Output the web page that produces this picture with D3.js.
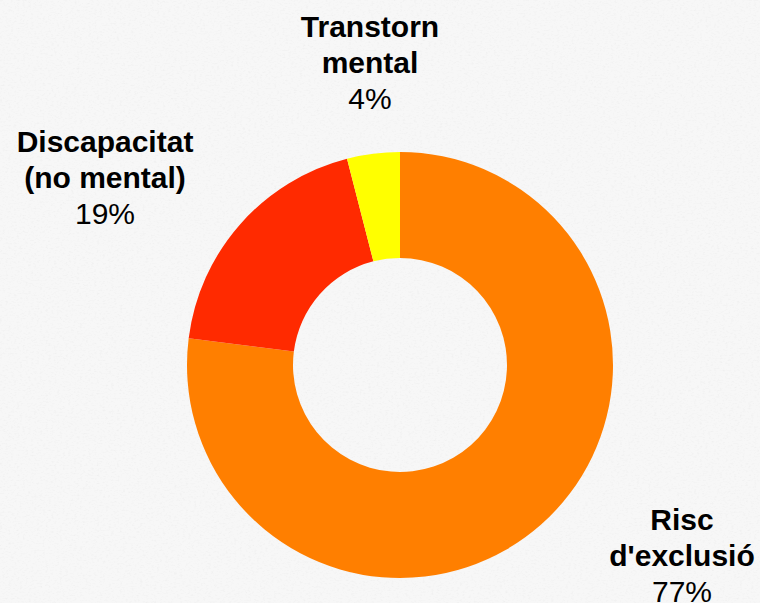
<!DOCTYPE html>
<html>
<head>
<meta charset="utf-8">
<script src="https://d3js.org/d3.v7.min.js"></script>
<style>
body { margin:0; padding:0; background:#f3f3f3; }
svg { display:block; }
</style>
</head>
<body>
<svg width=760 height=603></svg>
<script>
var categories = ["Risc d'exclusió", "Discapacitat (no mental)", "Transtorn mental"];
var values = [77, 19, 4];
var labelLines = [["Risc", "d'exclusió"], ["Discapacitat", "(no mental)"], ["Transtorn", "mental"]];
var colors = ["#ff7f00", "#ff2a00", "#ffff00"];

var width = 760, height = 603;
var cx = 400, cy = 365;
var outerR = 213, innerR = 107;
// label anchor (x, first baseline) for each slice
var labelAt = [[682, 530], [105, 152], [370, 37]];
var lineH = 36;

var svg = d3.select("svg").attr("viewBox", [0, 0, width, height]);

// paper texture
var defs = svg.append("defs");
var f = defs.append("filter").attr("id", "paper").attr("x", 0).attr("y", 0).attr("width", "100%").attr("height", "100%");
f.append("feTurbulence").attr("type", "fractalNoise").attr("baseFrequency", "0.35 0.6").attr("numOctaves", 3).attr("seed", 4).attr("result", "n");
f.append("feColorMatrix").attr("in", "n").attr("type", "matrix")
  .attr("values", "0 0 0 0 0.55  0 0 0 0 0.55  0 0 0 0 0.55  0 0 0 -0.9 0.45");
svg.append("rect").attr("width", width).attr("height", height).attr("fill", "#f7f7f7");
svg.append("rect").attr("width", width).attr("height", height).attr("filter", "url(#paper)").attr("opacity", 0.35);

var pie = d3.pie().sort(null).value(d => d);
var arc = d3.arc().innerRadius(innerR).outerRadius(outerR);

var g = svg.append("g").attr("transform", `translate(${cx},${cy})`);
g.selectAll("path")
  .data(pie(values))
  .join("path")
  .attr("d", arc)
  .attr("fill", (d, i) => colors[i]);

var labels = svg.append("g")
  .attr("font-family", "'Liberation Sans', Helvetica, Arial, sans-serif")
  .attr("font-size", 30)
  .attr("text-anchor", "middle")
  .attr("fill", "#000");

values.forEach(function(v, i) {
  var t = labels.append("text")
    .attr("x", labelAt[i][0])
    .attr("y", labelAt[i][1]);
  labelLines[i].forEach(function(line, j) {
    t.append("tspan")
      .attr("x", labelAt[i][0])
      .attr("dy", j == 0 ? 0 : lineH)
      .attr("font-weight", "bold")
      .text(line);
  });
  t.append("tspan")
    .attr("x", labelAt[i][0])
    .attr("dy", lineH)
    .text(v + "%");
});
</script>
</body>
</html>
